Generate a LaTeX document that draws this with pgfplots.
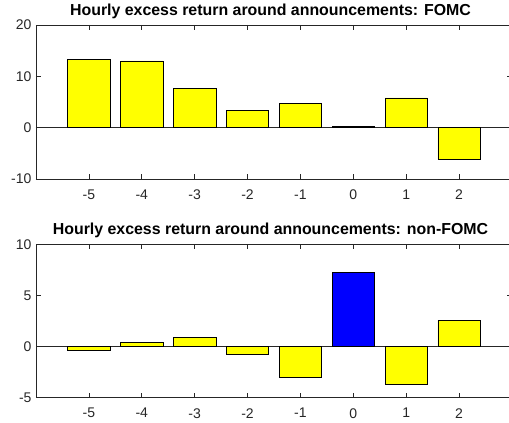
\documentclass[border=0pt]{standalone}
\usepackage{fontspec}
\setmainfont{Liberation Sans}
\usepackage{pgfplots}
\pgfplotsset{compat=1.18}
\definecolor{axgray}{rgb}{0.15,0.15,0.15}
\definecolor{myyellow}{rgb}{1,1,0}
\definecolor{myblue}{rgb}{0,0,1}
\pgfplotsset{
  mystyle/.style={
    scale only axis,
    width=476pt,
    xmin=-6, xmax=3,
    xtick={-5,-4,-3,-2,-1,0,1,2},
    tick align=inside,
    major tick length=5pt,
    axis line style={axgray, line width=0.6pt},
    every tick/.style={axgray, line width=0.6pt},
    /pgf/number format/assume math mode=true,
    tick label style={font=\fontsize{14}{16.8}\selectfont, text=axgray},
    xticklabel style={yshift=-7pt},
    yticklabel style={xshift=-1pt},
    title style={font=\bfseries\fontsize{15.9}{18}\selectfont, at={(0.5,1)}, anchor=base, yshift=3.5pt, xshift=-3.5pt},
    anchor=south west,
  },
  mybar/.style={ybar, bar width=0.8, bar shift=0pt, draw=black, line width=0.6pt},
}
\begin{document}
\begin{tikzpicture}
\clip (0,0) rectangle (509pt,423pt);
\useasboundingbox (0,0) rectangle (509pt,423pt);
\begin{axis}[mystyle, at={(36pt,244pt)}, height=154pt,
  ymin=-10, ymax=20, ytick={-10,0,10,20},
  title={Hourly excess return around announcements: FOMC}]
\addplot[draw=axgray, line width=0.6pt] coordinates {(-6,0) (3,0)};
\addplot[mybar, fill=myyellow] coordinates {
(-5,13.3) (-4,13.0) (-3,7.6) (-2,3.37) (-1,4.67) (0,0.25) (1,5.78) (2,-6.2)};
\end{axis}
\begin{axis}[mystyle, at={(36pt,25.3pt)}, height=153.4pt,
  ymin=-5, ymax=10, ytick={-5,0,5,10},
  title={Hourly excess return around announcements: non-FOMC}]
\addplot[draw=axgray, line width=0.6pt] coordinates {(-6,0) (3,0)};
\addplot[mybar, fill=myyellow] coordinates {
(-5,-0.35) (-4,0.43) (-3,0.92) (-2,-0.75) (-1,-3.0) (1,-3.72) (2,2.55)};
\addplot[mybar, fill=myblue] coordinates {(0,7.28)};
\end{axis}
\end{tikzpicture}
\end{document}
